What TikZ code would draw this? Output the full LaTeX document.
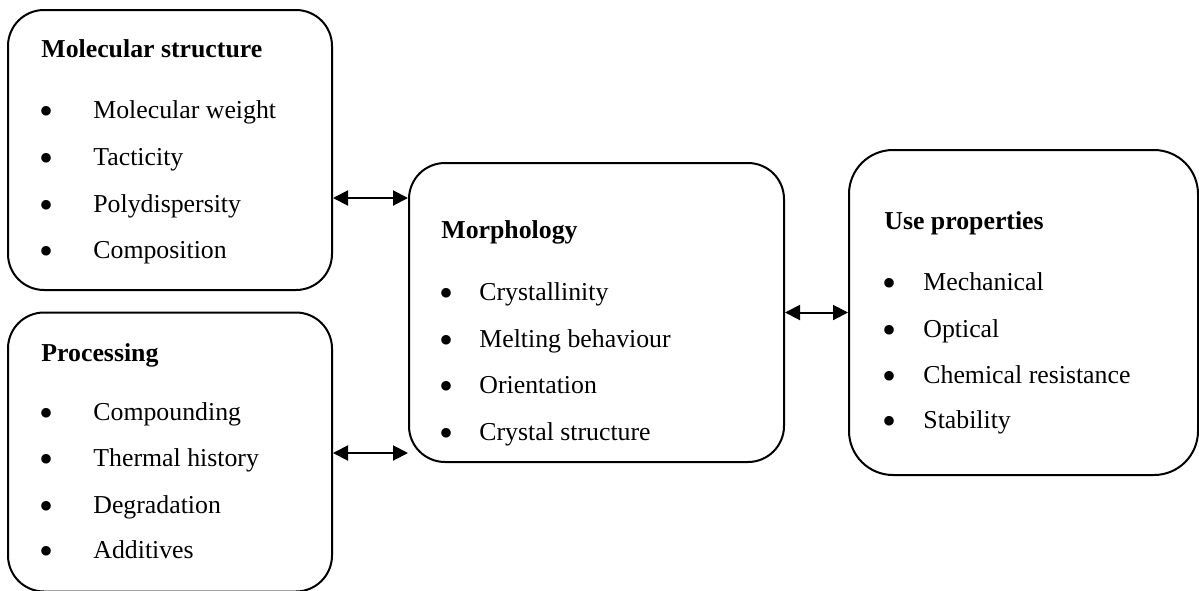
\documentclass[tikz,border=0pt]{standalone}
\usepackage{fontspec}
\setmainfont{Liberation Serif}
\usepackage{tikz}
\usetikzlibrary{arrows.meta, positioning}

\begin{document}
\begin{tikzpicture}[x=0.5pt, y=-0.5pt,
    box/.style={draw, line width=1pt, rounded corners=#1, inner sep=0pt},
    box/.default=18pt,
    title/.style={anchor=base west, inner sep=0pt, font=\fontsize{12.9}{15}\selectfont\bfseries},
    item/.style={anchor=base west, inner sep=0pt, font=\fontsize{12.9}{15}\selectfont},
    dot/.style={anchor=base, inner sep=0pt, font=\fontsize{20}{22}\selectfont},
    link/.style={line width=1pt, {Triangle[length=7.5pt,width=7.5pt]}-{Triangle[length=7.5pt,width=7.5pt]}}]
  \useasboundingbox (0,0) rectangle (1199,590);
  % --- Boxes ---
  \node[box, minimum width=162pt, minimum height=140pt] (mol) at (170,150) {};
  \node[box, minimum width=162pt, minimum height=139.5pt] (proc) at (170,452) {};
  \node[box, minimum width=187.5pt, minimum height=149.5pt] (morph) at (596.5,312.5) {};
  \node[box=22pt, minimum width=174.5pt, minimum height=162.5pt] (use) at (1023.5,312.5) {};
  % --- Molecular structure ---
  \node[title] (molt) at (41,57) {Molecular structure};
  \foreach \y/\t [count=\i] in {118/Molecular weight, 165/Tacticity, 212/Polydispersity, 258/Composition} {
    \node[dot] (molb\i) at (47,\y+6) {\textbullet};
    \node[item] (moli\i) at (93,\y) {\t};
  }
  % --- Processing ---
  \node[title] (proct) at (41,361) {Processing};
  \foreach \y/\t [count=\i] in {420/Compounding, 466/Thermal history, 513/Degradation, 558/Additives} {
    \node[dot] (procb\i) at (47,\y+6) {\textbullet};
    \node[item] (proci\i) at (93,\y) {\t};
  }
  % --- Morphology ---
  \node[title] (morpht) at (441,238) {Morphology};
  \foreach \y/\t [count=\i] in {300/Crystallinity, 347/Melting behaviour, 393/Orientation, 440/Crystal structure} {
    \node[dot] (morphb\i) at (446,\y+6) {\textbullet};
    \node[item] (morphi\i) at (479,\y) {\t};
  }
  % --- Use properties ---
  \node[title] (uset) at (884,229) {Use properties};
  \foreach \y/\t [count=\i] in {290/Mechanical, 337/Optical, 383/Chemical resistance, 428/Stability} {
    \node[dot] (useb\i) at (889,\y+6) {\textbullet};
    \node[item] (usei\i) at (923,\y) {\t};
  }
  % --- Double arrows ---
  \coordinate (uplevel) at (0,198);
  \coordinate (lowlevel) at (0,453);
  \draw[link] (mol.east |- uplevel) -- (morph.west |- uplevel);
  \draw[link] (proc.east |- lowlevel) -- (morph.west |- lowlevel);
  \draw[link] (morph.east) -- (use.west);
\end{tikzpicture}
\end{document}
